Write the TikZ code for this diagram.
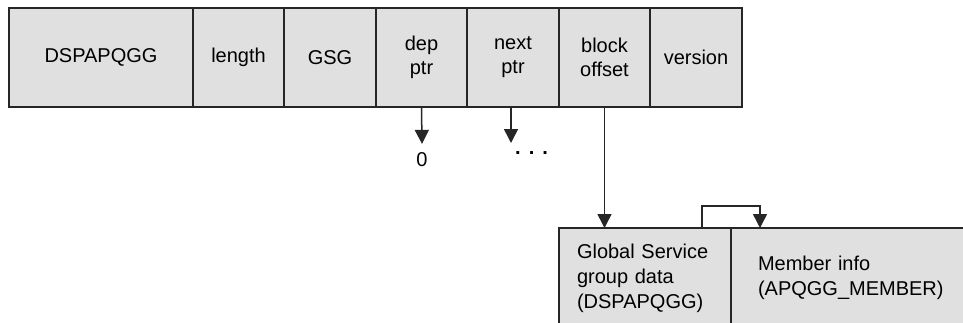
\documentclass[tikz,border=0pt]{standalone}
\usepackage{fontspec}
\setmainfont{Liberation Sans}
\usetikzlibrary{positioning,arrows.meta}
\definecolor{cellGray}{HTML}{E0E0E0}
\definecolor{edgeDark}{HTML}{262626}
\tikzset{
    cell/.style={draw=edgeDark,fill=cellGray,line width=1.5pt,inner sep=0pt,
        outer sep=0pt,minimum height=99pt,align=center,
        font=\fontsize{20}{24}\selectfont},
    membox/.style={draw=edgeDark,fill=cellGray,line width=1.5pt,inner ysep=0pt,
        outer sep=0pt,minimum height=100pt,align=left,
        font=\fontsize{20}{25}\selectfont},
    valtext/.style={inner sep=0pt,font=\fontsize{20}{24}\selectfont},
    ptrarrow/.style={-{Triangle[length=14pt,width=14pt]},draw=edgeDark,line width=1.5pt}
}
\begin{document}
\begin{tikzpicture}[x=1pt,y=-1pt]
        \path[use as bounding box,clip] (0,0) rectangle (963,322);
        % header block
        \node[cell,minimum width=184pt] (hdrname) at (101,57.5) {DSPAPQGG};
        \node[cell,minimum width=91pt] (hdrlength) at (238.5,57.5) {length};
        \node[cell,minimum width=92pt] (hdrgsg) at (330,57.5) {GSG};
        \node[cell,minimum width=91pt] (depptr) at (421.5,57.5) {dep\\ptr};
        \node[cell,minimum width=92pt] (nextptr) at (513,57.5) {next\\ptr};
        \node[cell,minimum width=91pt] (blockoff) at (604.5,57.5) {block\\offset};
        \node[cell,minimum width=92pt] (version) at (696,57.5) {version};
        % pointer targets
        \node[valtext,anchor=base] (zero) at (422,166) {0};
        \coordinate (nexttip) at (511,143);
        \node[valtext,anchor=base west] (more) at (515,154) {\textbf{.}\hspace{8pt}\textbf{.}\hspace{8pt}\textbf{.}};
        % data block
        \node[membox,inner xsep=18pt,text width=136pt,anchor=north west] (gsgdata)
            at (559,228) {Global Service\\group data\\(DSPAPQGG)};
        \node[membox,inner xsep=27pt,text width=200pt,anchor=north west] (memberinfo)
            at (gsgdata.north east) {Member info\\(APQGG\_MEMBER)};
        \draw[ptrarrow] (depptr.south) -- ([yshift=8pt]zero.north);
        \draw[ptrarrow] (nextptr.south -| nexttip) -- (nexttip);
        \draw[ptrarrow] (blockoff.south) -- (blockoff.south |- gsgdata.north);
        \draw[ptrarrow] ([xshift=57pt]gsgdata.north) -- ++(0,-22) -| ([xshift=29pt]memberinfo.north west);
    \end{tikzpicture}
\end{document}
